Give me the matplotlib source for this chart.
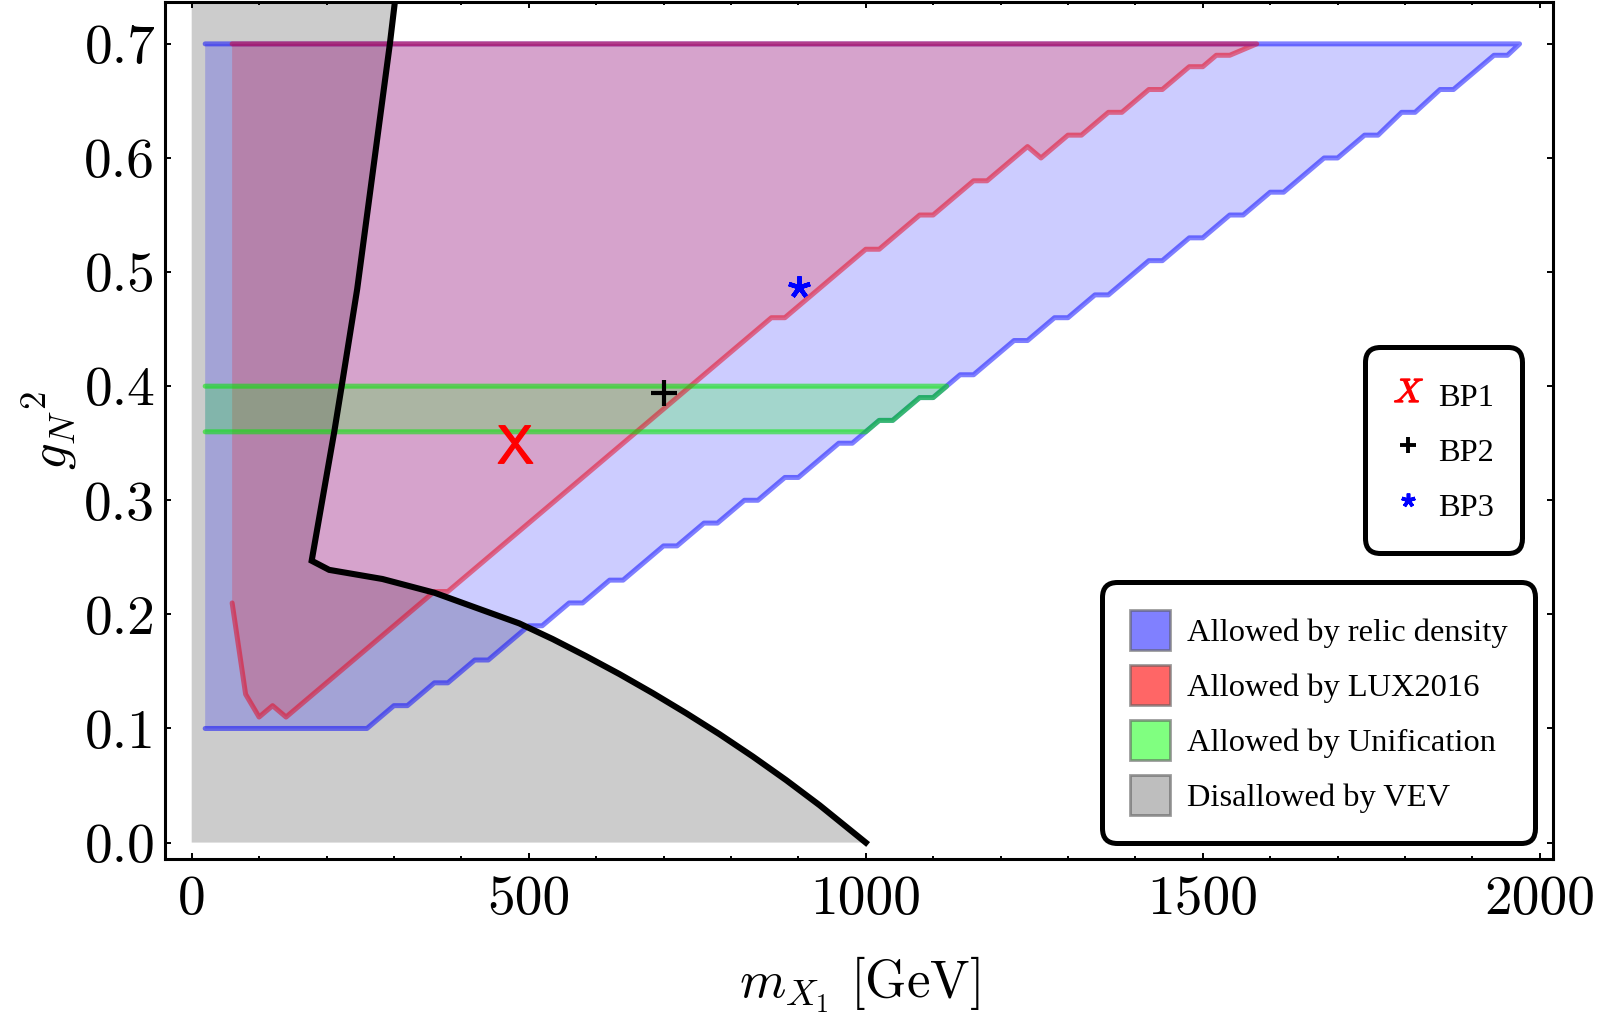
import numpy as np
import matplotlib
matplotlib.use("Agg")
import matplotlib.pyplot as plt
from matplotlib.patches import Patch
from matplotlib.lines import Line2D
from matplotlib.font_manager import FontProperties

# --- data ---
# lower-right staircase edge of the relic-density region (m_X1 in GeV, g_N^2)
relic_x = [20, 260, 300, 320, 360, 380, 420, 440, 500, 520, 560, 580, 620, 640,
           700, 720, 760, 780, 820, 840, 880, 900, 960, 980, 1020, 1040, 1080, 1100,
           1140, 1160, 1220, 1240, 1280, 1300, 1340, 1360, 1420, 1440, 1480, 1500,
           1540, 1560, 1600, 1620, 1680, 1700, 1740, 1760, 1795, 1815, 1852, 1872,
           1932, 1952, 1970]
relic_y = [0.10, 0.10, 0.12, 0.12, 0.14, 0.14, 0.16, 0.16, 0.19, 0.19, 0.21, 0.21, 0.23, 0.23,
           0.26, 0.26, 0.28, 0.28, 0.30, 0.30, 0.32, 0.32, 0.35, 0.35, 0.37, 0.37, 0.39, 0.39,
           0.41, 0.41, 0.44, 0.44, 0.46, 0.46, 0.48, 0.48, 0.51, 0.51, 0.53, 0.53,
           0.55, 0.55, 0.57, 0.57, 0.60, 0.60, 0.62, 0.62, 0.64, 0.64, 0.66, 0.66,
           0.69, 0.69, 0.70]
relic_left = 20

# lower edge of the LUX2016 allowed region
lux_x = [60, 80, 100, 120, 140, 360, 380, 860, 880, 1000, 1020, 1080, 1100, 1160, 1180,
         1240, 1260, 1300, 1320, 1360, 1380, 1420, 1440, 1480, 1500, 1520, 1540, 1580]
lux_y = [0.21, 0.13, 0.11, 0.12, 0.11, 0.22, 0.22, 0.46, 0.46, 0.52, 0.52, 0.55, 0.55, 0.58, 0.58,
         0.61, 0.60, 0.62, 0.62, 0.64, 0.64, 0.66, 0.66, 0.68, 0.68, 0.69, 0.69, 0.70]
lux_left = 60

g_top = 0.70

# unification band and its right edge (follows relic edge)
unif_lo, unif_hi = 0.36, 0.40
unif_edge_x = [1000, 1020, 1040, 1080, 1100, 1120]
unif_edge_y = [0.36, 0.37, 0.37, 0.39, 0.39, 0.40]

# VEV boundary (black curve), from (1000, 0) round the kink up to the top
vev_x = [1000, 931.6, 882, 832.5, 783, 733.6, 684, 634.5, 585, 535.4, 486, 360, 283, 204,
         178, 211.5, 222.5, 245.5, 294, 302]
vev_y = [0.0, 0.0327, 0.0547, 0.0754, 0.0950, 0.1134, 0.1310, 0.1477, 0.1634, 0.1784, 0.1921,
         0.219, 0.231, 0.239, 0.247, 0.36, 0.40, 0.485, 0.70, 0.7395]

# benchmark points
bp_names = ['BP1', 'BP2', 'BP3']
bp_x = [480, 700, 901]
bp_y = [0.349, 0.394, 0.487]

xtick_vals = [0, 500, 1000, 1500, 2000]
xtick_labels = ['0', '500', '1000', '1500', '2000']
ytick_vals = [0.0, 0.1, 0.2, 0.3, 0.4, 0.5, 0.6, 0.7]
ytick_labels = ['0.0', '0.1', '0.2', '0.3', '0.4', '0.5', '0.6', '0.7']

region_labels = ['Allowed by relic density', 'Allowed by LUX2016',
                 'Allowed by Unification', 'Disallowed by VEV']
region_swatch = ['#8080ff', '#ff6666', '#80ff80', '#bebebe']

plt.rcParams['mathtext.fontset'] = 'cm'

fig = plt.figure(figsize=(16, 10.16), dpi=100)
ax = fig.add_axes([165 / 1600, 1 - 859 / 1016, (1553 - 165) / 1600, (859 - 2) / 1016])

# gray disallowed region
gx = [0] + vev_x + [0]
gy = [0] + vev_y + [vev_y[-1]]
ax.fill(gx, gy, color='#cccccc', lw=0, zorder=1)

# relic density region
bx = relic_x + [relic_left]
by = relic_y + [g_top]
ax.fill(bx, by, color=(0, 0, 1, 0.2), lw=0, zorder=2)

# LUX region
rx = lux_x + [lux_left]
ry = lux_y + [g_top]
ax.fill(rx, ry, color=(1, 0, 0, 0.2), lw=0, zorder=3)

# unification band
ux = [relic_left] + unif_edge_x + [relic_left]
uy = [unif_lo] + unif_edge_y + [unif_hi]
ax.fill(ux, uy, color=(0, 1, 0, 0.2), lw=0, zorder=4)

lw = 3.6
ax.plot(bx, by, color=(0, 0, 1, 0.5), lw=lw, solid_capstyle='round', solid_joinstyle='round', zorder=5)
ax.plot(rx, ry, color=(0.9, 0, 0.1, 0.5), lw=lw, solid_capstyle='round', solid_joinstyle='round', zorder=6)
ax.plot(ux, uy, color=(0, 0.9, 0, 0.55), lw=lw, solid_capstyle='round', solid_joinstyle='round', zorder=7)
ax.plot(vev_x, vev_y, color='k', lw=4.4, solid_joinstyle='miter', zorder=8)

# benchmark markers
ax.plot(bp_x[0], bp_y[0], ls='none', marker=r'$\mathsf{X}$', color='red', ms=27, zorder=9)
ax.plot(bp_x[1], bp_y[1], ls='none', marker='+', color='k', ms=19, mew=3.0, zorder=9)
ax.plot(bp_x[2], bp_y[2], ls='none', marker=(5, 2, 0), color='b', ms=16, mew=3.2, zorder=9)

ax.set_xlim(-39.6, 2019.6)
ax.set_ylim(-0.0144, 0.7367)

tick_font = {'family': 'cmr10', 'size': 40}
ax.set_xticks(xtick_vals)
ax.set_xticklabels(xtick_labels, fontdict=tick_font)
ax.set_yticks(ytick_vals)
ax.set_yticklabels(ytick_labels, fontdict=tick_font)
ax.set_xticks(np.arange(0, 2001, 100), minor=True)
ax.tick_params(which='both', direction='in', top=True, right=True, width=1.4)
ax.tick_params(which='major', length=4)
ax.tick_params(which='minor', length=2)
ax.tick_params(axis='x', pad=12)
ax.tick_params(axis='y', pad=7)
for sp in ax.spines.values():
    sp.set_linewidth(2.2)

ax.set_xlabel(r'$m_{X_1}\ \mathrm{[GeV]}$', fontsize=38, labelpad=21.5)
ax.set_ylabel(r'${g_N}^{2}$', fontsize=38, labelpad=4)

leg_font = FontProperties(family='Liberation Serif', size=23.4)

h_bp = [Line2D([], [], ls='none', marker=r'$\mathit{X}$', color='red', ms=20),
        Line2D([], [], ls='none', marker='+', color='k', ms=12, mew=2.8),
        Line2D([], [], ls='none', marker=(5, 2, 0), color='b', ms=10, mew=2.6)]
leg1 = ax.legend(h_bp, bp_names, loc='upper left',
                 bbox_to_anchor=(1365 / 1600, 1 - 347 / 1016), bbox_transform=fig.transFigure,
                 prop=leg_font, handlelength=0.95, handleheight=1.52, handletextpad=0.45,
                 labelspacing=0.46, borderpad=0.86, borderaxespad=0, framealpha=1,
                 fancybox=True)
fr = leg1.get_frame()
fr.set_edgecolor('k')
fr.set_linewidth(3.6)
fr.set_boxstyle('round', pad=0, rounding_size=0.45)
ax.add_artist(leg1)

h_reg = [Patch(facecolor=c, edgecolor=(0.35, 0.35, 0.35, 0.6), linewidth=2) for c in region_swatch]
leg2 = ax.legend(h_reg, region_labels, loc='upper left',
                 bbox_to_anchor=(1102 / 1600, 1 - 582 / 1016), bbox_transform=fig.transFigure,
                 prop=leg_font, handlelength=1.23, handleheight=1.52, handletextpad=0.52,
                 labelspacing=0.46, borderpad=0.86, borderaxespad=0, framealpha=1,
                 fancybox=True)
fr = leg2.get_frame()
fr.set_edgecolor('k')
fr.set_linewidth(3.6)
fr.set_boxstyle('round', pad=0, rounding_size=0.45)

fig.savefig('out.png', dpi=100)
